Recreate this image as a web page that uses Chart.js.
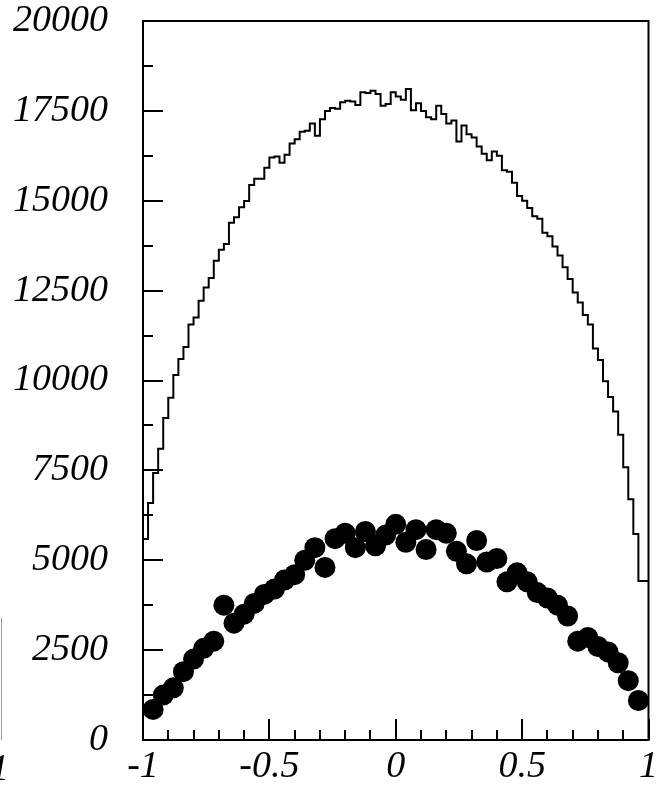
<!DOCTYPE html>
<html>
<head>
<meta charset="utf-8">
<script src="https://cdn.jsdelivr.net/npm/chart.js@4.4.1/dist/chart.umd.min.js"></script>
<style>
  html, body { margin: 0; padding: 0; background: #fff; }
  #wrap { width: 659px; height: 789px; position: relative; }
</style>
</head>
<body>
<div id="wrap"><canvas id="c" width="659" height="789"></canvas></div>
<script>
// ---- data ----
const histStart = -1;
const histBinWidth = 0.02;
const histCounts = [
  4190, 5590, 6590, 7430, 8100, 8960, 9520, 10150, 10600, 10930,
  11560, 11750, 12220, 12590, 12850, 13330, 13640, 13800, 14390, 14540,
  14820, 14990, 15440, 15610, 15610, 15920, 16200, 16230, 16060, 16280,
  16590, 16710, 16920, 16950, 17150, 16810, 17270, 17500, 17580, 17560,
  17740, 17780, 17760, 17660, 18020, 18000, 18060, 17970, 17640, 17690,
  18020, 17900, 17810, 18110, 17520, 17710, 17500, 17320, 17270, 17640,
  17410, 17150, 17230, 16650, 17090, 16850, 16760, 16510, 16310, 16130,
  16370, 16250, 15850, 15810, 15500, 15130, 15000, 14800, 14570, 14500,
  14110, 14010, 13730, 13480, 13150, 12820, 12450, 12170, 11820, 11560,
  10890, 10570, 9980, 9540, 9140, 8490, 7590, 6700, 5730, 4420
];
const dotX = [
  -0.96, -0.92, -0.88, -0.84, -0.80, -0.76, -0.72, -0.68, -0.64, -0.60,
  -0.56, -0.52, -0.48, -0.44, -0.40, -0.36, -0.32, -0.28, -0.24, -0.20,
  -0.16, -0.12, -0.08, -0.04, 0.00, 0.04, 0.08, 0.12, 0.16, 0.20,
  0.24, 0.28, 0.32, 0.36, 0.40, 0.44, 0.48, 0.52, 0.56, 0.60,
  0.64, 0.68, 0.72, 0.76, 0.80, 0.84, 0.88, 0.92, 0.96
];
const dotY = [
  850, 1250, 1450, 1900, 2250, 2550, 2750, 3750, 3250, 3500,
  3800, 4050, 4200, 4450, 4600, 5000, 5350, 4800, 5600, 5750,
  5350, 5800, 5400, 5700, 6000, 5500, 5850, 5300, 5850, 5750,
  5250, 4900, 5550, 4950, 5050, 4400, 4650, 4400, 4100, 3950,
  3750, 3450, 2750, 2850, 2600, 2450, 2150, 1650, 1100
];
const xLabelTicks = [-1, -0.5, 0, 0.5, 1];
const xTickMarks = [-1, -0.9, -0.8, -0.7, -0.6, -0.5, -0.4, -0.3, -0.2, -0.1, 0,
                    0.1, 0.2, 0.3, 0.4, 0.5, 0.6, 0.7, 0.8, 0.9, 1];
const yLabelTicks = [0, 2500, 5000, 7500, 10000, 12500, 15000, 17500, 20000];
const yTickMarks = [0, 1250, 2500, 3750, 5000, 6250, 7500, 8750, 10000, 11250,
                    12500, 13750, 15000, 16250, 17500, 18750, 20000];

// histogram as step line: left edge of each bin, plus closing edge
const histPoints = histCounts.map((v, i) => ({ x: histStart + i * histBinWidth, y: v }));
histPoints.push({ x: histStart + histCounts.length * histBinWidth, y: histCounts[histCounts.length - 1] });
const dotPoints = dotX.map((x, i) => ({ x: x, y: dotY[i] }));

const FONT = "'Liberation Serif', 'Times New Roman', serif";

const frameAndTicks = {
  id: 'frameAndTicks',
  afterDatasetsDraw(chart) {
    const { ctx, chartArea: a, scales } = chart;
    const xs = scales.x, ys = scales.y;
    ctx.save();
    ctx.strokeStyle = '#000';
    ctx.lineWidth = 2;
    ctx.beginPath();
    xTickMarks.forEach(v => {
      const px = Math.round(xs.getPixelForValue(v));
      const major = xLabelTicks.indexOf(v) >= 0;
      ctx.moveTo(px, a.bottom);
      ctx.lineTo(px, a.bottom - (major ? 21 : 10));
    });
    yTickMarks.forEach(v => {
      const py = Math.round(ys.getPixelForValue(v));
      const major = yLabelTicks.indexOf(v) >= 0;
      ctx.moveTo(a.left, py);
      ctx.lineTo(a.left + (major ? 20 : 10), py);
    });
    ctx.stroke();
    ctx.lineWidth = 2;
    ctx.strokeRect(a.left, a.top, a.right - a.left, a.bottom - a.top);
    ctx.restore();
  },
  afterDraw(chart) {
    const ctx = chart.ctx;
    ctx.save();
    ctx.fillStyle = '#000';
    ctx.font = 'italic 38px ' + FONT;
    ctx.textAlign = 'right';
    ctx.textBaseline = 'alphabetic';
    ctx.fillText('1', 9, 780);
    ctx.strokeStyle = '#999';
    ctx.lineWidth = 1;
    ctx.beginPath();
    ctx.moveTo(1.5, 618);
    ctx.lineTo(1.5, 740);
    ctx.stroke();
    ctx.restore();
  }
};

function noPad(s) { s.paddingTop = 0; s.paddingBottom = 0; s.paddingLeft = 0; s.paddingRight = 0; }

new Chart(document.getElementById('c'), {
  type: 'scatter',
  data: {
    datasets: [
      {
        type: 'line',
        data: histPoints,
        stepped: 'after',
        borderColor: '#000',
        borderWidth: 2,
        pointRadius: 0,
        fill: false,
        order: 2
      },
      {
        data: dotPoints,
        pointRadius: 10.5,
        pointHoverRadius: 10.5,
        backgroundColor: '#000',
        borderColor: '#000',
        borderWidth: 0,
        order: 1
      }
    ]
  },
  options: {
    responsive: false,
    animation: false,
    events: [],
    layout: { padding: { left: 0, right: 9, top: 21, bottom: 0 } },
    plugins: { legend: { display: false }, tooltip: { enabled: false } },
    scales: {
      x: {
        type: 'linear',
        min: -1, max: 1,
        afterBuildTicks: s => { s.ticks = xLabelTicks.map(v => ({ value: v })); },
        afterFit: s => { s.height = 49; noPad(s); },
        grid: { display: false, drawTicks: false },
        border: { display: true, color: '#000', width: 2 },
        ticks: {
          padding: 4,
          color: '#000',
          maxRotation: 0,
          autoSkip: false,
          font: { family: FONT, size: 38, style: 'italic' },
          callback: v => String(v)
        }
      },
      y: {
        type: 'linear',
        min: 0, max: 20000,
        afterBuildTicks: s => { s.ticks = yLabelTicks.map(v => ({ value: v })); },
        afterFit: s => { s.width = 143; noPad(s); },
        grid: { display: false, drawTicks: false },
        border: { display: true, color: '#000', width: 2 },
        ticks: {
          padding: 35,
          color: '#000',
          autoSkip: false,
          font: { family: FONT, size: 38, style: 'italic' },
          callback: v => String(v)
        }
      }
    }
  },
  plugins: [frameAndTicks]
});
</script>
</body>
</html>
